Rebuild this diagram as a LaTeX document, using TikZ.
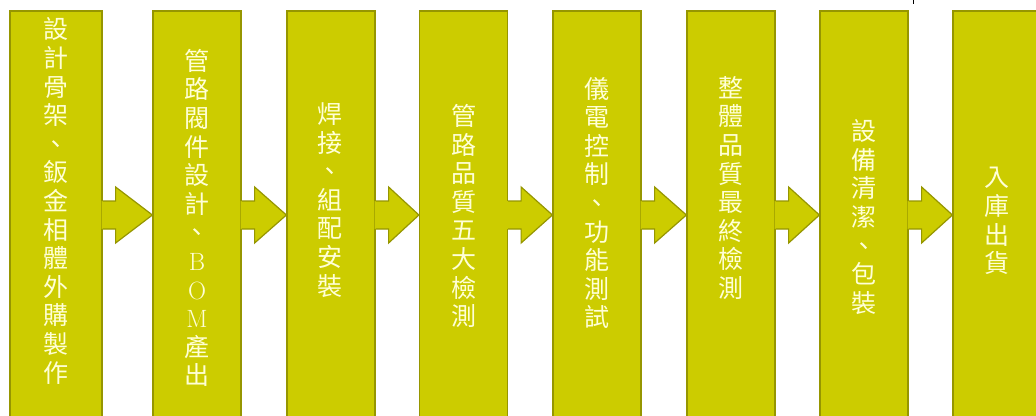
\documentclass[tikz,border=0pt]{standalone}
\usepackage{fontspec}
\newfontfamily\cjk{Noto Sans CJK TC}
\usetikzlibrary{calc}
\definecolor{olivefill}{RGB}{204,204,0}
\definecolor{olivedraw}{RGB}{150,150,0}
\definecolor{paletext}{RGB}{255,255,214}
\tikzset{stage/.style = {rectangle, fill = olivefill, draw = olivedraw, line width = 1.2pt,
                         minimum width = 88pt, minimum height = 408pt, inner sep = 0pt}}
\tikzset{stagetext/.style = {text = paletext, align = center, inner sep = 0pt,
                         font = \cjk\fontsize{25}{28.6}\selectfont}}
\tikzset{flowfill/.style = {fill = olivefill}}
\tikzset{flowline/.style = {draw = olivedraw, line width = 1.2pt, line join = miter}}
\newcommand{\serifletter}[1]{{\rmfamily #1}}

\begin{document}
\begin{tikzpicture}[x = 1pt, y = -1pt]
\useasboundingbox (0,0) rectangle (1036,415);
\clip (0,0) rectangle (1036,415);
\fill[white] (0,0) rectangle (1036,415);
\node[stage, minimum width = 92pt] (s1) at (56,215) {};
\node[stage] (s2) at (197,215) {};
\node[stage] (s3) at (331,215) {};
\node[stage] (s4) at (463.5,215) {};
\node[stage] (s5) at (597,215) {};
\node[stage] (s6) at (731,215) {};
\node[stage] (s7) at (864,215) {};
\node[stage] (s8) at (997,215) {};
\foreach \a/\b in {s1/s2, s2/s3, s3/s4, s4/s5, s5/s6, s6/s7, s7/s8}{
  \fill[flowfill] ($(\a.east)+(-1,-14)$) -- ($(\a.east)+(13,-14)$) -- ($(\a.east)+(13,-28)$)
        -- (\b.west) -- ($(\a.east)+(13,28)$) -- ($(\a.east)+(13,14)$) -- ($(\a.east)+(-1,14)$) -- cycle;
  \draw[flowline] ($(\a.east)+(0,-14)$) -- ($(\a.east)+(13,-14)$) -- ($(\a.east)+(13,-28)$)
        -- (\b.west) -- ($(\a.east)+(13,28)$) -- ($(\a.east)+(13,14)$) -- ($(\a.east)+(0,14)$);
}
\node[stagetext] (t1) at (56,201) {設\\計\\骨\\架\\、\\鈑\\金\\相\\體\\外\\購\\製\\作};
\node[stagetext] (t2) at (197,218) {管\\路\\閥\\件\\設\\計\\、\\\serifletter{B}\\\serifletter{O}\\\serifletter{M}\\產\\出};
\node[stagetext] (t3) at (330,200) {焊\\接\\、\\組\\配\\安\\裝};
\node[stagetext] (t4) at (463.5,216) {管\\路\\品\\質\\五\\大\\檢\\測};
\node[stagetext] (t5) at (597,203) {儀\\電\\控\\制\\、\\功\\能\\測\\試};
\node[stagetext] (t6) at (731,188) {整\\體\\品\\質\\最\\終\\檢\\測};
\node[stagetext] (t7) at (864,217) {設\\備\\清\\潔\\、\\包\\裝};
\node[stagetext] (t8) at (997,221) {入\\庫\\出\\貨};
\draw[black, line width = .6pt] (913,0) -- (913,4);
\end{tikzpicture}
\end{document}
